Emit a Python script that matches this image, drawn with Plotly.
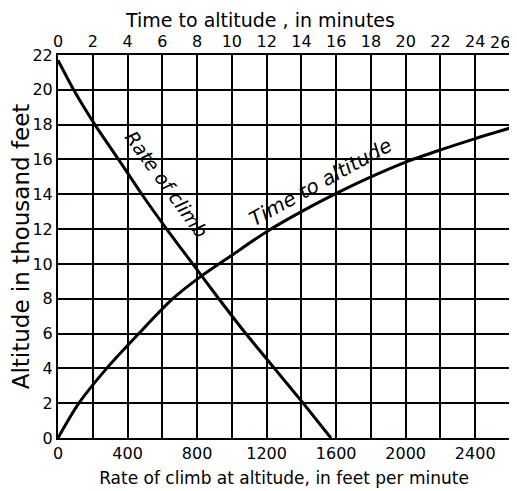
import plotly.graph_objects as go

# Rate of climb (ft/min, bottom axis) vs altitude (thousand ft)
rate_alt = [0, 2, 4, 6, 8, 10, 12, 14, 16, 18, 20, 21.7]
rate_fpm = [1570, 1410, 1245, 1080, 925, 775, 625, 482, 348, 212, 90, 0]

# Time to altitude (minutes, top axis) vs altitude (thousand ft)
time_min = [0, 1.2, 2.8, 4.65, 6.6, 8.2, 10, 12, 14, 16, 18, 20, 22, 24, 26]
time_alt = [0, 2, 4, 6, 8, 9.27, 10.5, 11.85, 13.0, 14.05, 15.0, 15.85, 16.55, 17.2, 17.8]

rate_ticks = [0, 400, 800, 1200, 1600, 2000, 2400]
time_ticks = list(range(0, 27, 2))
alt_ticks = list(range(0, 23, 2))

FONT = "DejaVu Sans"

fig = go.Figure()
fig.add_trace(go.Scatter(x=rate_fpm, y=rate_alt, mode="lines",
                         line=dict(color="black", width=3, shape="spline", smoothing=0.6),
                         xaxis="x", yaxis="y", showlegend=False))
fig.add_trace(go.Scatter(x=time_min, y=time_alt, mode="lines",
                         line=dict(color="black", width=3, shape="spline", smoothing=0.8),
                         xaxis="x2", yaxis="y", showlegend=False))

axis_common = dict(showline=True, linecolor="black", linewidth=2, zeroline=False,
                   automargin=False, ticks="",
                   tickfont=dict(family=FONT, size=16, color="black"))

# page body keeps its default 8px margin, so the figure is 8px smaller each way
fig.update_layout(
    width=509, height=483,
    margin=dict(l=50, r=7, t=47, b=53),
    plot_bgcolor="white", paper_bgcolor="white",
    font=dict(family=FONT, color="black"),
    xaxis=dict(range=[0, 2600], tickvals=rate_ticks, showgrid=False, mirror=True,
               title=dict(text="Rate of climb at altitude, in feet per minute",
                          font=dict(size=17), standoff=10),
               **axis_common),
    xaxis2=dict(range=[0, 26], tickvals=time_ticks, ticktext=[str(t) for t in time_ticks[:-1]] + [" "],
                overlaying="x", side="top",
                showgrid=True, gridcolor="black", gridwidth=1.5,
                **axis_common),
    yaxis=dict(range=[0, 22], tickvals=alt_ticks, showgrid=True, gridcolor="black",
               gridwidth=1.5, mirror=True,
               title=dict(text="Altitude in thousand feet", font=dict(size=23), standoff=12),
               **axis_common),
    annotations=[
        dict(x=0.447, y=1, xref="paper", yref="paper", yanchor="middle", yshift=35,
             text="Time to altitude , in minutes", showarrow=False,
             font=dict(family=FONT, size=19)),
        dict(x=1, y=1, xref="paper", yref="paper", xanchor="right", yanchor="bottom",
             xshift=2, yshift=1, text=str(time_ticks[-1]), showarrow=False,
             font=dict(family=FONT, size=16)),
        dict(x=625, y=14.6, xref="x", yref="y", text="Rate of climb", showarrow=False,
             textangle=54, font=dict(family=FONT, size=19, style="italic")),
        dict(x=1510, y=14.7, xref="x", yref="y", text="Time to altitude", showarrow=False,
             textangle=-29, font=dict(family=FONT, size=20, style="italic")),
    ],
)

fig.write_html("out.html")
